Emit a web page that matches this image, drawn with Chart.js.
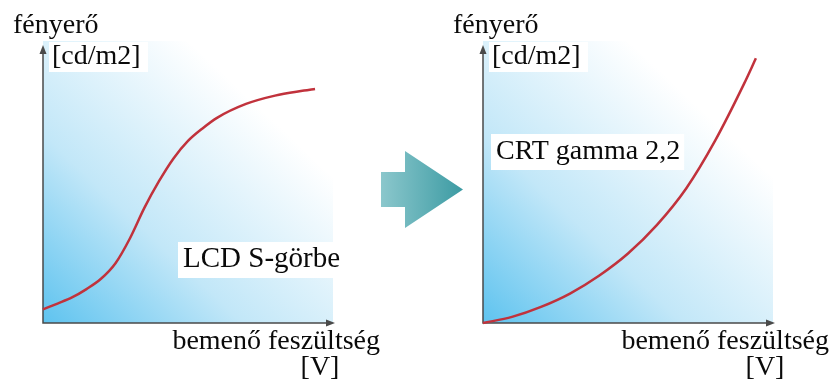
<!DOCTYPE html>
<html>
<head>
<meta charset="utf-8">
<title>LCD S-görbe / CRT gamma 2,2</title>
<script src="https://cdn.jsdelivr.net/npm/chart.js@4.4.1/dist/chart.umd.min.js"></script>
<style>
  html, body { margin: 0; padding: 0; background: #fff; font-family: "Liberation Serif", serif; }
  #wrap { position: relative; width: 830px; height: 381px; }
  #wrap canvas { position: absolute; left: 0; top: 0; }
</style>
</head>
<body>
<div id="wrap">
  <canvas id="LcdChart" width="830" height="381"></canvas>
  <canvas id="CrtChart" width="830" height="381"></canvas>
</div>
<script>
  "use strict";

  // Data (0..100 on both axes)
  const lcdVoltage   = [0, 5, 10, 15, 20, 25, 30, 35, 40, 45, 50, 55, 60, 70, 80, 90, 93.8];
  const lcdLuminance = [4.9, 7.0, 9.2, 12.2, 15.9, 21.5, 30.5, 41.5, 51.0, 59.2, 65.5, 70.0, 73.8, 78.8, 81.8, 83.6, 84.2];
  const crtVoltage   = [0, 10, 20, 30, 40, 50, 60, 70, 80, 90, 94.1];
  const crtLuminance = [0, 2.2, 5.8, 10.6, 17.0, 25.0, 35.3, 48.3, 65.5, 86.0, 95.2];

  // Labels
  const yTitle   = ['fényerő', '[cd/m2]'];
  const xTitle   = ['bemenő feszültség', '[V]'];
  const lcdLabel = 'LCD S-görbe';
  const crtLabel = 'CRT gamma 2,2';

  // Colors
  const curve_red  = '#c1323c';
  const axis_gray  = '#4a4a4a';
  const text_black = '#0a0a0a';
  const FONT = '28px "Liberation Serif"';

  function toPoints(xs, ys) {
    return xs.map(function (x, i) { return { x: x, y: ys[i] }; });
  }

  // Panel decoration: gradient, arrow axes, labels
  const panelPlugin = {
    id: 'panel',
    beforeDatasetsDraw: function (chart) {
      const ctx = chart.ctx;
      const a = chart.chartArea;
      ctx.save();
      const g = ctx.createLinearGradient(a.left, a.bottom, a.left + (a.right - a.left) * 0.72, a.bottom - (a.bottom - a.top) * 0.8);
      g.addColorStop(0, '#5ec3ef');
      g.addColorStop(0.45, '#c2e7f8');
      g.addColorStop(1, '#ffffff');
      ctx.fillStyle = g;
      ctx.fillRect(a.left, a.top - 4, a.right - a.left, a.bottom - a.top + 4);

      ctx.strokeStyle = axis_gray;
      ctx.fillStyle = axis_gray;
      ctx.lineWidth = 1.5;
      ctx.beginPath();
      ctx.moveTo(a.left, a.top + 6);
      ctx.lineTo(a.left, a.bottom);
      ctx.lineTo(a.right - 4, a.bottom);
      ctx.stroke();
      // y arrow head
      ctx.beginPath();
      ctx.moveTo(a.left, a.top);
      ctx.lineTo(a.left - 3.5, a.top + 9);
      ctx.lineTo(a.left + 3.5, a.top + 9);
      ctx.closePath();
      ctx.fill();
      // x arrow head
      ctx.beginPath();
      ctx.moveTo(a.right + 2, a.bottom);
      ctx.lineTo(a.right - 7, a.bottom - 3.5);
      ctx.lineTo(a.right - 7, a.bottom + 3.5);
      ctx.closePath();
      ctx.fill();
      ctx.restore();
    },
    afterDatasetsDraw: function (chart, args, opts) {
      const ctx = chart.ctx;
      const a = chart.chartArea;
      ctx.save();
      ctx.textBaseline = 'alphabetic';

      // white boxes behind labels
      ctx.fillStyle = '#ffffff';
      ctx.fillRect(a.left + 6, a.top - 3, 99, 30);
      ctx.font = opts.labelFont || FONT;
      const lw = ctx.measureText(opts.label).width;
      ctx.fillRect(opts.labelX - 5, opts.labelY - 25, lw + 9, 36);

      ctx.fillStyle = text_black;
      ctx.textAlign = 'left';
      ctx.fillText(opts.label, opts.labelX, opts.labelY);

      ctx.font = FONT;
      ctx.fillText(yTitle[0], a.left - 30, 33);
      ctx.fillText(yTitle[1], a.left + 9, 64);

      ctx.textAlign = 'right';
      ctx.fillText(xTitle[0], opts.xTitleEnd, 349);
      ctx.textAlign = 'center';
      ctx.fillText(xTitle[1], opts.unitX, 375);
      ctx.restore();
    }
  };

  // Middle arrow between the two panels
  const arrowPlugin = {
    id: 'midArrow',
    afterDraw: function (chart) {
      const ctx = chart.ctx;
      ctx.save();
      const g = ctx.createLinearGradient(381, 0, 463, 0);
      g.addColorStop(0, '#8bc7cc');
      g.addColorStop(1, '#3c9ba3');
      ctx.fillStyle = g;
      ctx.beginPath();
      ctx.moveTo(381, 172);
      ctx.lineTo(405, 172);
      ctx.lineTo(405, 151);
      ctx.lineTo(463, 189.5);
      ctx.lineTo(405, 228);
      ctx.lineTo(405, 207);
      ctx.lineTo(381, 207);
      ctx.closePath();
      ctx.fill();
      ctx.restore();
    }
  };

  function makeChart(id, points, padding, panelOpts, extraPlugins) {
    const el = document.getElementById(id);
    if (el == null) return null;
    return new Chart(el.getContext('2d'), {
      type: 'line',
      data: {
        datasets: [{
          data: points,
          borderColor: curve_red,
          borderWidth: 2.5,
          pointRadius: 0,
          fill: false,
          cubicInterpolationMode: 'monotone',
          clip: false
        }]
      },
      options: {
        responsive: false,
        animation: false,
        layout: { padding: padding },
        scales: {
          x: { type: 'linear', min: 0, max: 100, display: false },
          y: { min: 0, max: 100, display: false }
        },
        plugins: {
          legend: { display: false },
          tooltip: { enabled: false },
          panel: panelOpts
        }
      },
      plugins: [panelPlugin].concat(extraPlugins || [])
    });
  }

  function drawAll() {
    makeChart('LcdChart', toPoints(lcdVoltage, lcdLuminance),
      { left: 43, right: 497, top: 45, bottom: 58 },
      { label: lcdLabel, labelX: 183, labelY: 267, labelFont: '29px "Liberation Serif"', xTitleEnd: 380, unitX: 320 },
      [arrowPlugin]);

    makeChart('CrtChart', toPoints(crtVoltage, crtLuminance),
      { left: 483, right: 57, top: 45, bottom: 58 },
      { label: crtLabel, labelX: 496, labelY: 159, xTitleEnd: 829, unitX: 765 });
  }

  // make sure the serif face is ready before the canvas text is drawn
  if (document.fonts && document.fonts.load) {
    document.fonts.load(FONT, 'fényerő gamma').then(drawAll, drawAll);
  } else {
    drawAll();
  }
</script>
</body>
</html>
